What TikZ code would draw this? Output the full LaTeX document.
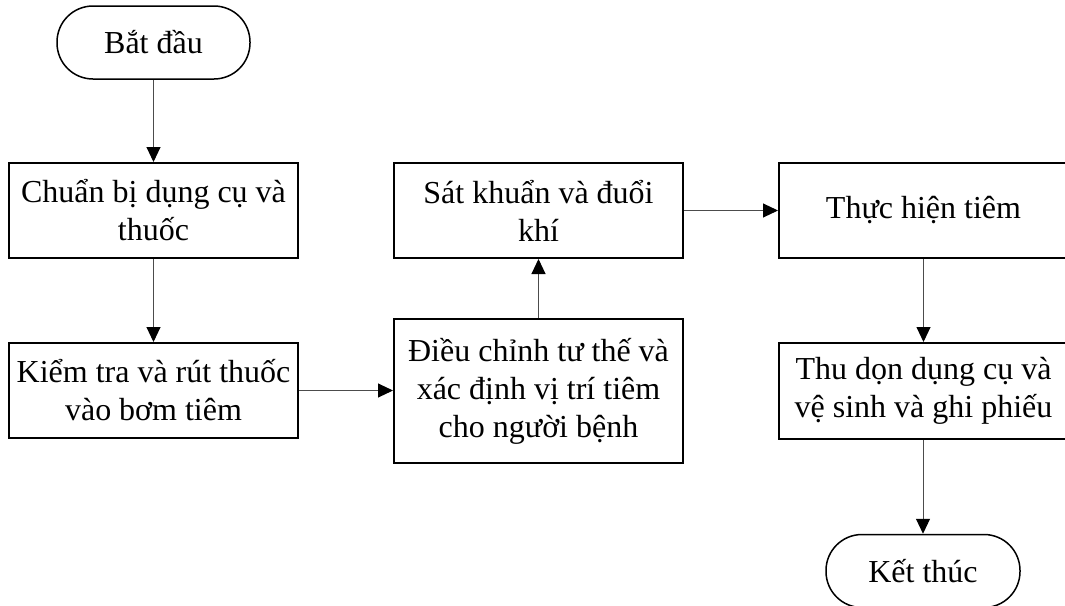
\documentclass[tikz,border=0pt]{standalone}
\usepackage{fontspec}
\setmainfont{Liberation Serif}
\usetikzlibrary{arrows.meta}
\begin{document}
\begin{tikzpicture}[x=1pt,y=-1pt,
  every node/.style={font=\fontsize{32}{38}\selectfont, align=center, inner sep=0pt},
  stepbox/.style={draw=black, line width=2pt, minimum width=289pt, minimum height=95pt},
  terminal/.style={draw=black, line width=1.5pt, rounded corners=36pt, minimum width=193pt, minimum height=73pt},
  flow/.style={draw=black!70, line width=1pt, -{Triangle[length=15pt,width=14pt,color=black,fill=black]}}]
  \useasboundingbox (0,0) rectangle (1065,605);
  \node[terminal] (start) at (153.5,42.5) {Bắt đầu};
  \node[stepbox] (prep) at (153.5,210.5) {Chuẩn bị dụng cụ và\\thuốc};
  \node[stepbox] (check) at (153.5,390.5) {Kiểm tra và rút thuốc\\vào bơm tiêm};
  \node[stepbox, minimum height=144pt] (pos) at (538.5,391) {Điều chỉnh tư thế và\\xác định vị trí tiêm\\cho người bệnh};
  \node[stepbox] (disinf) at (538.5,210.5) {Sát khuẩn và đuổi\\khí};
  \node[stepbox] (inject) at (923.5,210.5) {Thực hiện tiêm};
  \node[stepbox, minimum height=96pt] (clean) at (923.5,391) {Thu dọn dụng cụ và\\vệ sinh và ghi phiếu};
  \node[terminal, minimum width=194pt] (stop) at (923,571) {Kết thúc};
  \draw[flow] (start.south) -- (prep.north);
  \draw[flow] (prep.south) -- (check.north);
  \draw[flow] (check.east) -- (check.east -| pos.west);
  \draw[flow] (pos.north) -- (disinf.south);
  \draw[flow] (disinf.east) -- (inject.west);
  \draw[flow] (inject.south) -- (clean.north);
  \draw[flow] (clean.south -| stop.north) -- (stop.north);
\end{tikzpicture}
\end{document}
